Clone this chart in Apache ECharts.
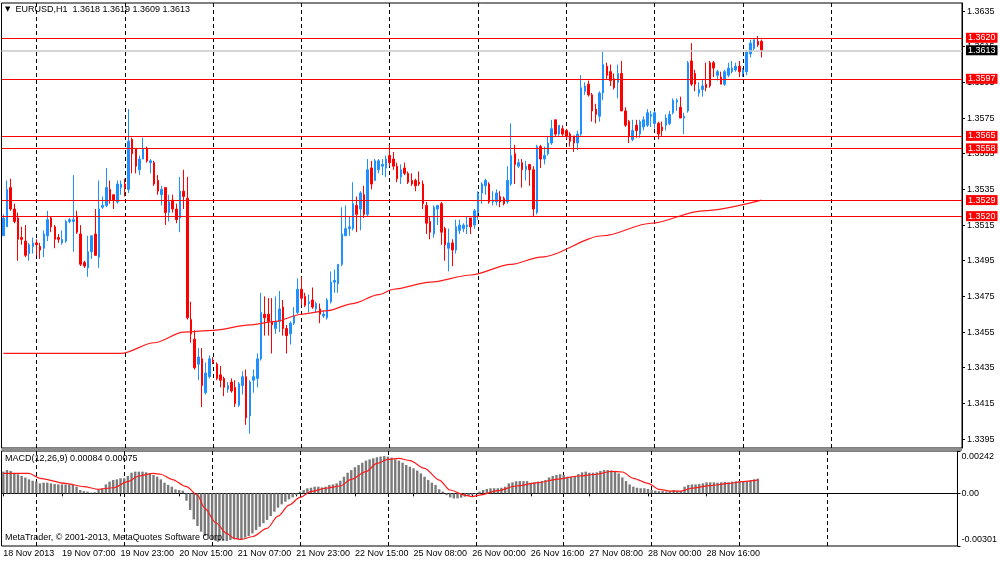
<!DOCTYPE html>
<html><head><meta charset="utf-8">
<script src="https://cdn.jsdelivr.net/npm/echarts@6/dist/echarts.min.js"></script>
<style>html,body{margin:0;padding:0;background:#fff}#c{width:1000px;height:562px}</style>
</head><body><div id="c"></div>
<script>
const symbolName = 'EURUSD,H1';
const slotCount = 261;
const timeLabels = ["18 Nov 2013","19 Nov 07:00","19 Nov 23:00","20 Nov 15:00","21 Nov 07:00","21 Nov 23:00","22 Nov 15:00","25 Nov 08:00","26 Nov 00:00","26 Nov 16:00","27 Nov 08:00","28 Nov 00:00","28 Nov 16:00"];
const labelStep = 16;
const dayStart = 9, dayStep = 24, dayEnd = 225;
const priceTicks = [1.3395,1.3415,1.3435,1.3455,1.3475,1.3495,1.3515,1.3535,1.3555,1.3575,1.3595,1.3615,1.3635];
const macdTicks = [0.00242, 0, -0.00301];
const levels = [1.3620, 1.3597, 1.3565, 1.3558, 1.3529, 1.3520];
const bidPrice = 1.3613;

const open = [1.3509,1.3514,1.3536,1.3524,1.3519,1.3508,1.3506,1.3499,1.3503,1.3505,
1.3503,1.3502,1.3509,1.3519,1.3514,1.3508,1.3505,1.3506,1.3517,1.3517,
1.3520,1.3510,1.3494,1.3491,1.3500,1.3510,1.3497,1.3525,1.3526,1.3535,
1.3532,1.3528,1.3536,1.3538,1.3535,1.3563,1.3558,1.3546,1.3552,1.3558,
1.3550,1.3550,1.3540,1.3532,1.3536,1.3522,1.3529,1.3524,1.3519,1.3534,
1.3530,1.3462,1.3451,1.3437,1.3440,1.3421,1.3430,1.3439,1.3437,1.3431,
1.3429,1.3423,1.3427,1.3424,1.3414,1.3425,1.3430,1.3408,1.3428,1.3429,
1.3440,1.3465,1.3465,1.3461,1.3457,1.3461,1.3469,1.3457,1.3454,1.3460,
1.3466,1.3479,1.3475,1.3471,1.3473,1.3468,1.3468,1.3464,1.3463,1.3472,
1.3483,1.3482,1.3493,1.3509,1.3513,1.3513,1.3526,1.3524,1.3532,1.3521,
1.3547,1.3540,1.3546,1.3548,1.3547,1.3554,1.3552,1.3548,1.3542,1.3547,
1.3544,1.3540,1.3540,1.3539,1.3538,1.3526,1.3517,1.3510,1.3524,1.3527,
1.3513,1.3502,1.3505,1.3501,1.3512,1.3513,1.3514,1.3519,1.3515,1.3522,
1.3533,1.3537,1.3538,1.3528,1.3528,1.3531,1.3530,1.3528,1.3538,1.3555,
1.3548,1.3550,1.3546,1.3549,1.3546,1.3522,1.3559,1.3552,1.3555,1.3561,
1.3574,1.3566,1.3569,1.3568,1.3566,1.3565,1.3561,1.3566,1.3590,1.3594,
1.3588,1.3580,1.3576,1.3589,1.3604,1.3601,1.3597,1.3595,1.3600,1.3579,
1.3573,1.3563,1.3571,1.3566,1.3570,1.3571,1.3576,1.3572,1.3572,1.3570,
1.3571,1.3572,1.3578,1.3584,1.3581,1.3575,1.3579,1.3607,1.3600,1.3589,
1.3591,1.3594,1.3606,1.3606,1.3599,1.3598,1.3594,1.3599,1.3601,1.3602,
1.3604,1.3600,1.3601,1.3611,1.3614,1.3618,1.3618];
const high = [1.3521,1.3540,1.3541,1.3527,1.3522,1.3514,1.3515,1.3505,1.3508,1.3507,
1.3505,1.3512,1.3523,1.3520,1.3515,1.3510,1.3512,1.3518,1.3519,1.3543,
1.3523,1.3515,1.3495,1.3509,1.3509,1.3524,1.3540,1.3531,1.3547,1.3540,
1.3532,1.3540,1.3540,1.3541,1.3580,1.3564,1.3558,1.3554,1.3564,1.3559,
1.3552,1.3551,1.3543,1.3537,1.3536,1.3532,1.3532,1.3527,1.3542,1.3546,
1.3542,1.3472,1.3456,1.3446,1.3446,1.3438,1.3442,1.3441,1.3438,1.3436,
1.3430,1.3427,1.3429,1.3428,1.3427,1.3433,1.3434,1.3428,1.3434,1.3443,
1.3477,1.3475,1.3474,1.3474,1.3475,1.3478,1.3473,1.3459,1.3461,1.3469,
1.3485,1.3486,1.3477,1.3476,1.3480,1.3472,1.3471,1.3467,1.3474,1.3489,
1.3490,1.3493,1.3525,1.3526,1.3520,1.3539,1.3531,1.3534,1.3537,1.3552,
1.3551,1.3552,1.3552,1.3552,1.3554,1.3560,1.3556,1.3550,1.3549,1.3550,
1.3545,1.3544,1.3541,1.3545,1.3540,1.3528,1.3520,1.3526,1.3526,1.3528,
1.3514,1.3513,1.3507,1.3518,1.3518,1.3516,1.3520,1.3519,1.3524,1.3534,
1.3539,1.3541,1.3539,1.3534,1.3535,1.3534,1.3531,1.3548,1.3572,1.3560,
1.3552,1.3552,1.3551,1.3549,1.3548,1.3560,1.3560,1.3559,1.3565,1.3574,
1.3574,1.3571,1.3571,1.3569,1.3567,1.3565,1.3568,1.3599,1.3595,1.3596,
1.3589,1.3583,1.3590,1.3612,1.3606,1.3605,1.3600,1.3605,1.3607,1.3581,
1.3574,1.3574,1.3574,1.3574,1.3576,1.3580,1.3579,1.3579,1.3573,1.3573,
1.3577,1.3579,1.3586,1.3586,1.3587,1.3578,1.3607,1.3617,1.3602,1.3595,
1.3597,1.3606,1.3607,1.3607,1.3602,1.3601,1.3602,1.3606,1.3607,1.3606,
1.3607,1.3603,1.3613,1.3619,1.3619,1.3621,1.3619];
const low = [1.3509,1.3514,1.3523,1.3516,1.3495,1.3504,1.3497,1.3495,1.3499,1.3498,
1.3496,1.3497,1.3506,1.3511,1.3502,1.3505,1.3504,1.3505,1.3516,1.3500,
1.3510,1.3492,1.3491,1.3486,1.3496,1.3498,1.3491,1.3524,1.3525,1.3527,
1.3524,1.3527,1.3532,1.3531,1.3533,1.3544,1.3544,1.3543,1.3552,1.3550,
1.3544,1.3537,1.3532,1.3526,1.3515,1.3517,1.3522,1.3516,1.3511,1.3524,
1.3462,1.3449,1.3434,1.3428,1.3413,1.3420,1.3429,1.3437,1.3428,1.3424,
1.3419,1.3421,1.3421,1.3413,1.3413,1.3420,1.3403,1.3398,1.3421,1.3424,
1.3439,1.3453,1.3453,1.3443,1.3454,1.3455,1.3453,1.3443,1.3448,1.3459,
1.3465,1.3470,1.3469,1.3466,1.3468,1.3466,1.3460,1.3463,1.3462,1.3471,
1.3477,1.3477,1.3492,1.3509,1.3509,1.3512,1.3511,1.3512,1.3519,1.3520,
1.3535,1.3540,1.3544,1.3543,1.3542,1.3548,1.3546,1.3539,1.3538,1.3543,
1.3538,1.3537,1.3534,1.3537,1.3524,1.3510,1.3507,1.3508,1.3515,1.3504,
1.3495,1.3489,1.3492,1.3499,1.3510,1.3511,1.3510,1.3510,1.3513,1.3518,
1.3527,1.3532,1.3527,1.3526,1.3526,1.3525,1.3526,1.3527,1.3537,1.3538,
1.3547,1.3536,1.3540,1.3537,1.3520,1.3521,1.3547,1.3549,1.3554,1.3560,
1.3565,1.3565,1.3565,1.3563,1.3559,1.3556,1.3557,1.3565,1.3588,1.3587,
1.3573,1.3572,1.3573,1.3585,1.3597,1.3593,1.3591,1.3586,1.3579,1.3570,
1.3561,1.3562,1.3564,1.3564,1.3568,1.3570,1.3570,1.3569,1.3563,1.3565,
1.3568,1.3571,1.3577,1.3579,1.3575,1.3566,1.3578,1.3593,1.3590,1.3587,
1.3587,1.3590,1.3592,1.3598,1.3596,1.3594,1.3593,1.3598,1.3600,1.3601,
1.3598,1.3598,1.3599,1.3609,1.3613,1.3615,1.3609];
const close = [1.3519,1.3535,1.3524,1.3517,1.3507,1.3507,1.3498,1.3504,1.3505,1.3504,
1.3501,1.3510,1.3518,1.3514,1.3507,1.3507,1.3507,1.3517,1.3518,1.3518,
1.3511,1.3493,1.3492,1.3500,1.3509,1.3498,1.3524,1.3526,1.3536,1.3529,
1.3529,1.3538,1.3538,1.3536,1.3562,1.3555,1.3548,1.3552,1.3558,1.3551,
1.3551,1.3538,1.3534,1.3535,1.3522,1.3528,1.3524,1.3518,1.3534,1.3531,
1.3463,1.3454,1.3435,1.3441,1.3425,1.3432,1.3440,1.3438,1.3429,1.3428,
1.3424,1.3425,1.3422,1.3415,1.3426,1.3430,1.3407,1.3427,1.3430,1.3440,
1.3466,1.3463,1.3461,1.3459,1.3461,1.3468,1.3457,1.3453,1.3460,1.3464,
1.3479,1.3474,1.3470,1.3472,1.3469,1.3471,1.3465,1.3465,1.3473,1.3483,
1.3484,1.3493,1.3510,1.3513,1.3514,1.3527,1.3521,1.3533,1.3521,1.3546,
1.3538,1.3551,1.3551,1.3549,1.3552,1.3550,1.3548,1.3541,1.3546,1.3544,
1.3539,1.3538,1.3537,1.3538,1.3527,1.3516,1.3511,1.3525,1.3526,1.3511,
1.3504,1.3505,1.3501,1.3514,1.3515,1.3515,1.3515,1.3514,1.3523,1.3533,
1.3538,1.3540,1.3528,1.3529,1.3533,1.3528,1.3527,1.3540,1.3554,1.3549,
1.3550,1.3546,1.3548,1.3546,1.3524,1.3559,1.3552,1.3554,1.3561,1.3569,
1.3566,1.3571,1.3566,1.3565,1.3562,1.3561,1.3566,1.3592,1.3593,1.3588,
1.3579,1.3577,1.3589,1.3605,1.3599,1.3596,1.3592,1.3600,1.3579,1.3571,
1.3565,1.3568,1.3568,1.3573,1.3574,1.3578,1.3577,1.3578,1.3566,1.3568,
1.3575,1.3577,1.3585,1.3585,1.3575,1.3576,1.3606,1.3594,1.3594,1.3591,
1.3593,1.3592,1.3593,1.3603,1.3601,1.3594,1.3601,1.3603,1.3603,1.3604,
1.3601,1.3602,1.3612,1.3617,1.3619,1.3616,1.3613];

const maBars = [0,16,32,41,49,57,67,74,81,88,95,102,106,116,127,138,146,163,176,190,206];
const maValues = [1.3443,1.3443,1.3443,1.3449,1.3455,1.3456,1.3459,1.3461,1.3465,1.3467,1.3471,1.3476,1.3479,1.3483,1.3487,1.3493,1.3497,1.3509,1.3516,1.3523,1.3529];

const macdValues = [0.00124,0.00133,0.00128,0.00114,0.00109,0.00099,0.00090,0.00080,0.00072,0.00067,
0.00057,0.00061,0.00061,0.00057,0.00053,0.00051,0.00051,0.00051,0.00051,0.00048,
0.00038,0.00019,0.00013,0.00010,0.00004,0.00006,0.00019,0.00029,0.00051,0.00067,
0.00076,0.00080,0.00086,0.00086,0.00099,0.00118,0.00124,0.00124,0.00124,0.00120,
0.00114,0.00105,0.00095,0.00080,0.00061,0.00048,0.00038,0.00023,0.00019,0.00015,
-0.00042,-0.00095,-0.00149,-0.00187,-0.00219,-0.00244,-0.00257,-0.00267,-0.00272,-0.00272,
-0.00272,-0.00272,-0.00267,-0.00263,-0.00263,-0.00261,-0.00253,-0.00244,-0.00229,-0.00210,
-0.00191,-0.00171,-0.00152,-0.00130,-0.00105,-0.00082,-0.00063,-0.00048,-0.00034,-0.00023,
-0.00010,0.00010,0.00019,0.00029,0.00032,0.00038,0.00038,0.00034,0.00038,0.00048,
0.00051,0.00057,0.00072,0.00095,0.00118,0.00133,0.00149,0.00162,0.00175,0.00187,
0.00194,0.00200,0.00206,0.00210,0.00213,0.00210,0.00204,0.00194,0.00187,0.00175,
0.00162,0.00152,0.00143,0.00130,0.00114,0.00095,0.00076,0.00061,0.00048,0.00023,
0.00010,-0.00010,-0.00023,-0.00029,-0.00029,-0.00025,-0.00019,-0.00015,-0.00010,-0.00004,
0.00010,0.00019,0.00025,0.00029,0.00029,0.00029,0.00032,0.00038,0.00057,0.00063,
0.00069,0.00070,0.00070,0.00070,0.00061,0.00063,0.00067,0.00070,0.00076,0.00091,
0.00099,0.00105,0.00109,0.00105,0.00095,0.00095,0.00099,0.00110,0.00120,0.00124,
0.00118,0.00118,0.00120,0.00128,0.00133,0.00133,0.00130,0.00124,0.00114,0.00091,
0.00070,0.00051,0.00038,0.00032,0.00029,0.00029,0.00025,0.00019,0.00015,0.00013,
0.00013,0.00010,0.00013,0.00019,0.00015,0.00013,0.00038,0.00048,0.00051,0.00051,
0.00053,0.00057,0.00063,0.00063,0.00063,0.00061,0.00063,0.00065,0.00063,0.00067,
0.00069,0.00069,0.00067,0.00069,0.00076,0.00080,0.00084];

const signalBars = [0,7,10,17,22,26,30,34,37,41,43,46,50,53,55,58,61,63,65,68,72,75,78,81,84,88,92,95,99,102,105,108,111,115,119,122,126,128,130,135,140,146,151,157,162,166,169,172,176,179,182,185,188,193,198,202,206];
const signalValues = [0.00114,0.00114,0.00086,0.00057,0.00038,0.00023,0.00032,0.00067,0.00099,0.00114,
0.00109,0.00080,0.00038,-0.00010,-0.00086,-0.00168,-0.00229,-0.00257,-0.00263,-0.00248,
-0.00200,-0.00130,-0.00067,-0.00023,0.00010,0.00029,0.00042,0.00080,0.00124,0.00171,
0.00194,0.00200,0.00187,0.00143,0.00076,0.00019,-0.00010,-0.00019,-0.00010,0.00015,
0.00042,0.00061,0.00080,0.00099,0.00109,0.00126,0.00122,0.00086,0.00057,0.00023,
0.00013,0.00013,0.00029,0.00044,0.00057,0.00067,0.00075];

const FONT = 'Liberation Sans';
const cats = Array.from({length: slotCount}, (_, i) => String(i));
const candleData = open.map((o, i) => [o, close[i], low[i], high[i]]);
const isLabel = i => i % labelStep === 0 && i / labelStep < timeLabels.length;
const isDay = i => i >= dayStart && i <= dayEnd && (i - dayStart) % dayStep === 0;
const last = a => a[a.length - 1];
const dashed = {show: true, interval: (i) => isDay(i), alignWithLabel: true, lineStyle: {color: '#000', type: [4, 3], width: 1}};

const tagLabel = (bg) => ({show: true, position: 'end', distance: 4, formatter: p => Number(p.value).toFixed(4), color: '#fff', backgroundColor: bg, padding: [1, 2, 0, 2], fontSize: 9, fontFamily: FONT});
const levelLines = [{yAxis: bidPrice, lineStyle: {color: '#c8c8c8', width: 1.5, type: 'solid'}, label: tagLabel('#000')}]
  .concat(levels.map(v => ({yAxis: v, lineStyle: {color: '#ff0000', width: 1.2, type: 'solid'}, label: tagLabel('#ff0000')})));

const txt = {fontSize: 9, fontWeight: 'normal', color: '#000', fontFamily: FONT};
const option = {
  animation: false,
  backgroundColor: '#fff',
  textStyle: {fontFamily: FONT},
  title: [
    {text: '{tri|▼}  ' + symbolName + '  ' + [last(open), last(high), last(low), last(close)].map(v => v.toFixed(4)).join(' '),
     left: 5, top: 5, padding: 0, textStyle: Object.assign({}, txt, {rich: {tri: {fontSize: 7, fontFamily: 'DejaVu Sans', color: '#000'}}})},
    {text: 'MACD(12,26,9) ' + last(macdValues).toFixed(5) + ' ' + last(signalValues).toFixed(5), left: 5, top: 454, padding: 0, textStyle: txt},
    {text: 'MetaTrader, © 2001-2013, MetaQuotes Software Corp.', left: 5, top: 533, padding: 0, textStyle: txt}
  ],
  grid: [
    {left: 1.5, right: 38, top: 3, height: 445, show: true, borderColor: '#000', borderWidth: 1, backgroundColor: 'transparent'},
    {left: 1.5, right: 38, top: 451, height: 95, show: true, borderColor: '#000', borderWidth: 1, backgroundColor: 'transparent'}
  ],
  graphic: [{type: 'rect', shape: {x: 1.5, y: 448, width: 960.5, height: 3}, style: {fill: '#8c8c8c'}, z: 10}],
  xAxis: [
    {type: 'category', gridIndex: 0, data: cats, boundaryGap: true,
     axisLine: {show: false}, axisTick: {show: false}, axisLabel: {show: false}, splitLine: dashed},
    {type: 'category', gridIndex: 1, data: cats, boundaryGap: true,
     axisLine: {show: true, lineStyle: {color: '#000'}},
     axisTick: {show: true, interval: (i) => isLabel(i), alignWithLabel: true, length: 3, lineStyle: {color: '#000'}},
     axisLabel: {show: true, interval: (i) => isLabel(i), formatter: (v, i) => timeLabels[i / labelStep] || '', align: 'left', margin: 3, fontSize: 9, color: '#000', fontFamily: FONT},
     splitLine: dashed}
  ],
  yAxis: [
    {type: 'value', gridIndex: 0, position: 'right', min: 1.3390, max: 1.36395,
     axisLine: {show: true, lineStyle: {color: '#000'}},
     axisTick: {show: true, length: 3, customValues: priceTicks, lineStyle: {color: '#000'}},
     axisLabel: {customValues: priceTicks, formatter: v => v.toFixed(4), fontSize: 9, color: '#000', margin: 5, fontFamily: FONT},
     splitLine: {show: false}},
    {type: 'value', gridIndex: 1, position: 'right', min: macdTicks[2], max: macdTicks[0],
     axisLine: {show: true, lineStyle: {color: '#000'}},
     axisTick: {show: true, length: 3, customValues: macdTicks, lineStyle: {color: '#000'}},
     axisLabel: {customValues: macdTicks, fontSize: 9, color: '#000', margin: 4, fontFamily: FONT,
       formatter: v => v === macdTicks[0] ? '{t|' + v.toFixed(5) + '}' : (v === macdTicks[2] ? '{b|' + v.toFixed(5) + '}' : '0.00'),
       rich: {t: {lineHeight: 21, verticalAlign: 'bottom', fontSize: 9, fontFamily: FONT}, b: {lineHeight: 21, verticalAlign: 'top', fontSize: 9, fontFamily: FONT}}},
     splitLine: {show: false}}
  ],
  series: [
    {type: 'line', xAxisIndex: 0, yAxisIndex: 0, data: maBars.map((b, i) => [b, maValues[i]]),
     showSymbol: false, smooth: 0.3, smoothMonotone: 'x', lineStyle: {color: '#ff1a1a', width: 1.2}, z: 4, silent: true,
     markLine: {symbol: ['none', 'none'], precision: 5, silent: true, animation: false, data: levelLines}},
    {type: 'candlestick', xAxisIndex: 0, yAxisIndex: 0, data: candleData, barWidth: 2, z: 3,
     itemStyle: {color: '#1e90ff', color0: '#ff0000', borderColor: '#1e90ff', borderColor0: '#ff0000', borderWidth: 1}},
    {type: 'bar', xAxisIndex: 1, yAxisIndex: 1, data: macdValues, barWidth: 2.4, itemStyle: {color: '#7a7a7a'}, silent: true},
    {type: 'line', xAxisIndex: 1, yAxisIndex: 1, data: signalBars.map((b, i) => [b, signalValues[i]]),
     showSymbol: false, smooth: 0.3, smoothMonotone: 'x', lineStyle: {color: '#ff1a1a', width: 1.2}, silent: true}
  ]
};
const chart = echarts.init(document.getElementById('c'));
chart.setOption(option);
</script></body></html>
